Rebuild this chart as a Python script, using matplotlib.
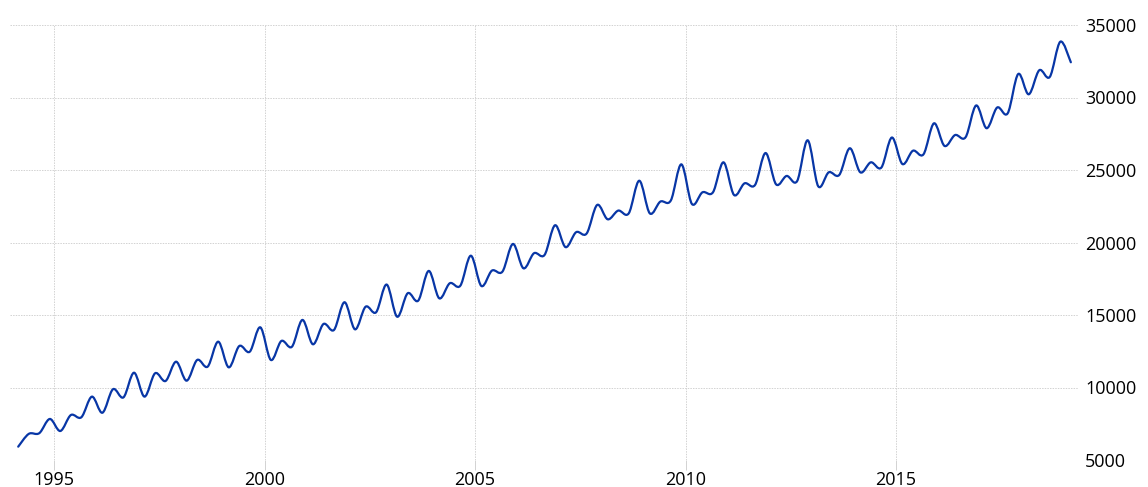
import numpy as np
import matplotlib
matplotlib.use("Agg")
import matplotlib.pyplot as plt
from matplotlib.path import Path
from matplotlib.patches import PathPatch

# quarterly values, Q1 1994 .. Q1 2019
years = list(range(1994, 2020))
quarter_offsets = [0.15, 0.40, 0.65, 0.90]
values = [
    5920, 6800, 6850, 7830,       # 1994
    7000, 8100, 7950, 9370,       # 1995
    8260, 9880, 9320, 11020,      # 1996
    9370, 10980, 10450, 11780,    # 1997
    10470, 11900, 11440, 13160,   # 1998
    11390, 12860, 12470, 14150,   # 1999
    11900, 13210, 12810, 14660,   # 2000
    12980, 14380, 13970, 15880,   # 2001
    14010, 15570, 15190, 17100,   # 2002
    14880, 16500, 15990, 18040,   # 2003
    16150, 17190, 17020, 19090,   # 2004
    17000, 18060, 17990, 19900,   # 2005
    18220, 19260, 19140, 21190,   # 2006
    19680, 20710, 20620, 22590,   # 2007
    21600, 22200, 22010, 24260,   # 2008
    22010, 22820, 22900, 25390,   # 2009
    22660, 23460, 23460, 25530,   # 2010
    23280, 24080, 23970, 26170,   # 2011
    24010, 24590, 24240, 27050,   # 2012
    23880, 24840, 24660, 26500,   # 2013
    24840, 25530, 25170, 27240,   # 2014
    25410, 26330, 26080, 28220,   # 2015
    26660, 27410, 27260, 29450,   # 2016
    27880, 29310, 28910, 31620,   # 2017
    30220, 31880, 31420, 33850,   # 2018
    32430,                        # 2019
]
x_ticks = [1995, 2000, 2005, 2010, 2015]
y_ticks = [5000, 10000, 15000, 20000, 25000, 30000, 35000]

LINE_COLOR = "#0836a6"
GRID_COLOR = "#d2d2d2"


def smooth_path(xs, ys):
    # Catmull-Rom through the data points, expressed as cubic Bezier segments
    xs = np.asarray(xs, float)
    ys = np.asarray(ys, float)
    verts = [(xs[0], ys[0])]
    codes = [Path.MOVETO]
    n = len(xs)
    for i in range(n - 1):
        i0 = max(i - 1, 0)
        i3 = min(i + 2, n - 1)
        c1 = (xs[i] + (xs[i + 1] - xs[i0]) / 6, ys[i] + (ys[i + 1] - ys[i0]) / 6)
        c2 = (xs[i + 1] - (xs[i3] - xs[i]) / 6, ys[i + 1] - (ys[i3] - ys[i]) / 6)
        verts += [c1, c2, (xs[i + 1], ys[i + 1])]
        codes += [Path.CURVE4] * 3
    return Path(verts, codes)


times = [y + q for y in years for q in quarter_offsets][:len(values)]

plt.rcParams["font.family"] = ["Open Sans", "DejaVu Sans"]

fig = plt.figure(figsize=(11.48, 4.87), dpi=100)
ax = fig.add_axes([10 / 1148, 27 / 487, 1068 / 1148, 435 / 487])

ax.add_patch(PathPatch(smooth_path(times, values), fill=False,
                       edgecolor=LINE_COLOR, linewidth=1.6,
                       capstyle="round", joinstyle="round", zorder=3))

ax.set_xlim(1993.955, 2019.32)
ax.set_ylim(5000, 35000)

ax.set_xticks(x_ticks)
ax.set_xticklabels([str(t) for t in x_ticks])
ax.set_yticks(y_ticks)
ax.set_yticklabels([str(t) for t in y_ticks])

ax.yaxis.tick_right()
ax.tick_params(axis="y", length=0, pad=5, labelsize=13, labelcolor="#000000")
ax.tick_params(axis="x", length=7, width=0.7, color=GRID_COLOR, pad=1,
               labelsize=13, labelcolor="#000000")

ax.grid(True, color=GRID_COLOR, linestyle=(0, (1.5, 1.2)), linewidth=0.7)
ax.set_axisbelow(True)
for s in ax.spines.values():
    s.set_visible(False)

fig.savefig("out.png", dpi=100)
